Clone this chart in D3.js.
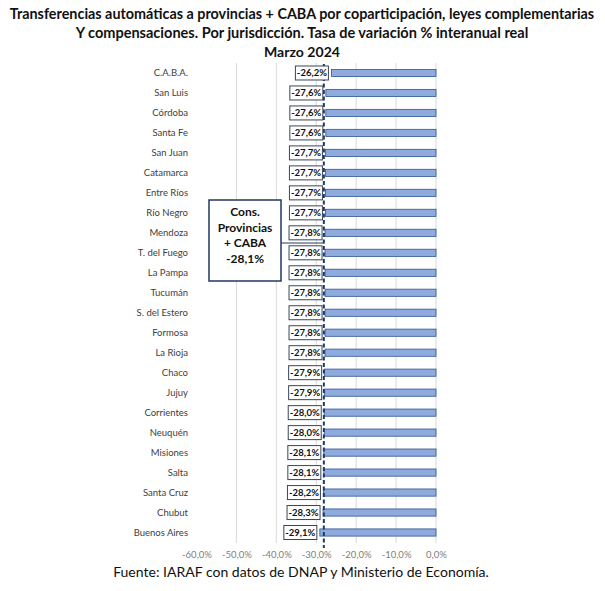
<!DOCTYPE html>
<html><head><meta charset="utf-8">
<script src="https://cdn.jsdelivr.net/npm/d3@7"></script>
<style>body{margin:0;background:#fff}svg{display:block}</style>
</head><body>
<svg id="c" width="605" height="591"></svg>
<script>
const titleLines = ["Transferencias automáticas a provincias + CABA por coparticipación, leyes complementarias",
  "Y compensaciones. Por jurisdicción. Tasa de variación % interanual real", "Marzo 2024"];
const categories = ["C.A.B.A.","San Luis","Córdoba","Santa Fe","San Juan","Catamarca","Entre Ríos","Río Negro","Mendoza","T. del Fuego","La Pampa","Tucumán","S. del Estero","Formosa","La Rioja","Chaco","Jujuy","Corrientes","Neuquén","Misiones","Salta","Santa Cruz","Chubut","Buenos Aires"];
const values = [-26.2,-27.6,-27.6,-27.6,-27.7,-27.7,-27.7,-27.7,-27.8,-27.8,-27.8,-27.8,-27.8,-27.8,-27.8,-27.9,-27.9,-28.0,-28.0,-28.1,-28.1,-28.2,-28.3,-29.1];
const tickValues = [-60,-50,-40,-30,-20,-10,0];
const consolidated = -28.1;
const calloutLines = ["Cons.","Provincias","+ CABA","-28,1%"];
const sourceText = "Fuente: IARAF con datos de DNAP y Ministerio de Economía.";

const fmt = v => d3.format(".1f")(v).replace("−","-").replace(".",",") + "%";
const svg = d3.select("#c");
const font = "Lato, 'Open Sans', sans-serif";

function fitText(sel, target){
  const n = sel.node(); const len = n.getComputedTextLength();
  const fs = parseFloat(sel.attr("font-size"));
  sel.attr("font-size", fs*target/len);
}

// Title
const tY = [19, 38, 57], tW = [585, 453, 76];
titleLines.forEach((t,i)=>{
  const s = svg.append("text").attr("x",302).attr("y",tY[i]).attr("text-anchor","middle")
    .attr("font-family",font).attr("font-weight","bold").attr("font-size",14).attr("fill","#111").text(t);
  fitText(s, tW[i]);
});

const x = d3.scaleLinear().domain([-60,0]).range([196.5,436]);
const y = d3.scaleBand().domain(categories).range([63,542.5]).paddingInner(0.64).paddingOuter(0.32);

// gridlines
svg.append("g").selectAll("line").data(tickValues.filter(d=>d!==-60)).join("line")
  .attr("x1",d=>x(d)).attr("x2",d=>x(d)).attr("y1",63).attr("y2",543)
  .attr("stroke","#d9d9d9").attr("stroke-width",1);

// axis tick labels
const axis = d3.axisBottom(x).tickValues(tickValues).tickSize(0).tickPadding(0).tickFormat(fmt);
const ag = svg.append("g").attr("transform","translate(0,551)").call(axis);
ag.select(".domain").remove();
ag.selectAll("text").attr("font-family",font).attr("font-size",9.5).attr("fill","#808080").attr("dy","0.71em");

// category labels
const yAx = d3.axisLeft(y).tickSize(0).tickPadding(0);
const yg = svg.append("g").attr("transform","translate(188,0)").call(yAx);
yg.select(".domain").remove();
yg.selectAll("text").attr("font-family",font).attr("font-size",9.5).attr("fill","#404040");

// bars
const data = categories.map((c,i)=>({c, v: values[i]}));
svg.append("g").selectAll("rect").data(data).join("rect")
  .attr("x",d=>x(d.v)).attr("width",d=>x(0)-x(d.v))
  .attr("y",d=>y(d.c)).attr("height",y.bandwidth())
  .attr("fill","#8faadc").attr("stroke","#2f5597").attr("stroke-width",0.8);

// dashed average line
svg.append("line").attr("x1",x(consolidated)).attr("x2",x(consolidated)).attr("y1",64).attr("y2",548)
  .attr("stroke","#1f3864").attr("stroke-width",2).attr("stroke-dasharray","4,2.5");

// value labels
const lg = svg.append("g").selectAll("g").data(data).join("g")
  .attr("transform",d=>`translate(${x(d.v)-3},${y(d.c)+y.bandwidth()/2})`);
lg.append("rect").attr("x",-33).attr("y",-7).attr("width",33).attr("height",14)
  .attr("fill","#fff").attr("stroke","#3a4658").attr("stroke-width",1);
lg.append("text").attr("x",-16.5).attr("y",0).attr("dy","0.35em").attr("text-anchor","middle")
  .attr("font-family",font).attr("font-weight","bold").attr("font-size",9.5).attr("fill","#111")
  .text(d=>fmt(d.v));

// callout
svg.append("line").attr("x1",281).attr("x2",x(consolidated)).attr("y1",243).attr("y2",243)
  .attr("stroke","#1f3864").attr("stroke-width",1);
svg.append("rect").attr("x",209).attr("y",200).attr("width",72).attr("height",81)
  .attr("fill","#fff").attr("stroke","#1f3864").attr("stroke-width",1.5);
calloutLines.forEach((t,i)=>{
  svg.append("text").attr("x",245).attr("y",216+i*15.5).attr("text-anchor","middle")
    .attr("font-family",font).attr("font-weight","bold").attr("font-size",12).attr("fill","#111").text(t);
});

// source
const src = svg.append("text").attr("x",301).attr("y",577).attr("text-anchor","middle")
  .attr("font-family",font).attr("font-size",14).attr("fill","#111").text(sourceText);
fitText(src, 376);
</script>
</body></html>
